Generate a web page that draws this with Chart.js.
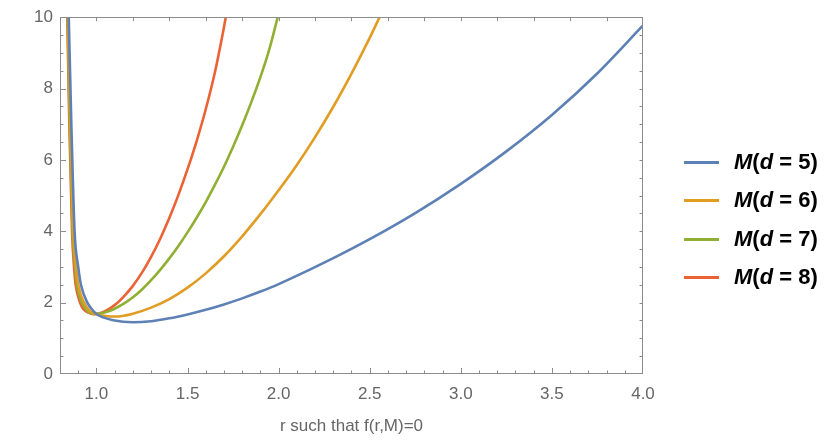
<!DOCTYPE html>
<html>
<head>
<meta charset="utf-8">
<script src="https://cdn.jsdelivr.net/npm/chart.js@4.4.1/dist/chart.umd.min.js"></script>
<style>
  html, body { margin: 0; padding: 0; background: #fff; }
  #wrap { position: relative; width: 830px; height: 443px; }
  #legend { position: absolute; left: 684px; top: 0; font: bold 22px "Liberation Sans", Arial, sans-serif; color: #000; }
  .row { position: absolute; left: 0; height: 30px; display: flex; align-items: center; white-space: nowrap; }
  .swatch { width: 35px; height: 3px; margin-right: 15px; }
</style>
</head>
<body>
<div id="wrap">
  <canvas id="c" width="830" height="443"></canvas>
  <div id="legend"></div>
</div>
<script>
// values
const dims = [5, 6, 7, 8];
const colors = ['#5e81b5', '#e19c24', '#8fb032', '#eb6235'];

const r5 = [0.848, 0.862, 0.880, 0.900, 0.915, 0.950, 0.974, 1.00, 1.10, 1.20, 1.30, 1.40, 1.50, 1.60, 1.70, 1.80, 1.90, 2.00, 2.25, 2.50, 2.75, 3.00, 3.25, 3.50, 3.75, 4.00];
const m5 = [10, 7.05, 4.0, 3.0, 2.5, 2.0, 1.82, 1.68, 1.50, 1.45, 1.48, 1.56, 1.67, 1.80, 1.95, 2.12, 2.31, 2.52, 3.12, 3.78, 4.51, 5.33, 6.24, 7.26, 8.43, 9.77];

const r6 = [0.844, 0.856, 0.872, 0.888, 0.900, 0.932, 0.960, 0.990, 1.05, 1.10, 1.15, 1.20, 1.30, 1.40, 1.50, 1.60, 1.70, 1.80, 1.90, 2.00, 2.10, 2.20, 2.30, 2.40, 2.50, 2.554];
const m6 = [10, 7.05, 4.0, 3.0, 2.5, 2.0, 1.78, 1.69, 1.625, 1.61, 1.635, 1.69, 1.86, 2.10, 2.42, 2.82, 3.30, 3.86, 4.48, 5.15, 5.86, 6.64, 7.49, 8.42, 9.42, 10];

const r7 = [0.842, 0.853, 0.869, 0.883, 0.893, 0.920, 0.950, 0.985, 1.05, 1.10, 1.15, 1.20, 1.25, 1.30, 1.35, 1.40, 1.45, 1.50, 1.55, 1.60, 1.65, 1.70, 1.75, 1.80, 1.85, 1.90, 1.95, 1.995];
const m7 = [10, 7.05, 4.0, 3.0, 2.5, 2.0, 1.76, 1.68, 1.73, 1.83, 1.97, 2.15, 2.37, 2.63, 2.92, 3.24, 3.59, 3.97, 4.38, 4.82, 5.30, 5.81, 6.37, 6.97, 7.62, 8.32, 9.12, 10];

const r8 = [0.840, 0.851, 0.866, 0.877, 0.886, 0.910, 0.928, 0.956, 0.985, 1.05, 1.10, 1.15, 1.20, 1.25, 1.30, 1.35, 1.40, 1.45, 1.50, 1.55, 1.60, 1.65, 1.70, 1.71];
const m8 = [10, 7.05, 4.0, 3.0, 2.5, 2.0, 1.82, 1.72, 1.675, 1.77, 1.93, 2.17, 2.47, 2.84, 3.28, 3.79, 4.37, 5.02, 5.74, 6.53, 7.42, 8.45, 9.72, 10];

const rs = [r5, r6, r7, r8];
const ms = [m5, m6, m7, m8];

const xTicks = [1.0, 1.5, 2.0, 2.5, 3.0, 3.5, 4.0];
const yTicks = [0, 2, 4, 6, 8, 10];
const xTitle = 'r such that f(r,M)=0';

const family = "'Liberation Sans', Arial, sans-serif";
const frameColor = '#8c8c8c';
const labelColor = '#666';

// Mathematica-style frame with ticks pointing inwards
const frameTicks = {
  id: 'frameTicks',
  afterDatasetsDraw(chart) {
    const { ctx, chartArea: a, scales: { x, y } } = chart;
    const px = v => Math.round(x.getPixelForValue(v)) + 0.5;
    const py = v => Math.round(y.getPixelForValue(v)) + 0.5;
    ctx.save();
    ctx.strokeStyle = frameColor;
    ctx.lineWidth = 1;
    ctx.beginPath();
    for (let i = 9; i < 40; i++) {          // bottom, every 0.1
      const len = i % 5 === 0 ? 6 : 3.5;
      ctx.moveTo(px(i / 10), a.bottom); ctx.lineTo(px(i / 10), a.bottom - len);
    }
    for (let i = 5; i < 20; i++) {          // top, every 0.2
      ctx.moveTo(px(i / 5), a.top); ctx.lineTo(px(i / 5), a.top + 4);
    }
    for (let i = 1; i < 20; i++) {          // left + right, every 0.5
      const len = i % 4 === 0 ? 6 : 3.5;
      ctx.moveTo(a.left, py(i / 2)); ctx.lineTo(a.left + len, py(i / 2));
      ctx.moveTo(a.right, py(i / 2)); ctx.lineTo(a.right - 3.5, py(i / 2));
    }
    ctx.stroke();
    ctx.strokeRect(Math.round(a.left) + 0.5, Math.round(a.top) + 0.5,
                   Math.round(a.right - a.left) - 1, Math.round(a.bottom - a.top) - 1);
    ctx.restore();
  }
};

new Chart(document.getElementById('c'), {
  type: 'line',
  data: {
    datasets: dims.map((d, i) => ({
      label: `M(d = ${d})`,
      data: rs[i].map((r, j) => ({ x: r, y: ms[i][j] })),
      borderColor: colors[i],
      borderWidth: 2.6,
      pointRadius: 0,
      fill: false,
      cubicInterpolationMode: 'monotone',
      clip: 0
    }))
  },
  options: {
    responsive: false,
    animation: false,
    layout: { padding: { top: 13, right: 187, left: 0, bottom: 0 } },
    plugins: { legend: { display: false }, tooltip: { enabled: false } },
    scales: {
      x: {
        type: 'linear', min: 0.8, max: 4.0,
        grid: { display: false, drawTicks: false },
        border: { display: false },
        afterBuildTicks: s => { s.ticks = xTicks.map(v => ({ value: v })); },
        afterFit: s => { s.height = 69; },
        ticks: { color: labelColor, font: { size: 17, family }, padding: 10, maxRotation: 0, autoSkip: false, callback: v => v.toFixed(1) },
        title: { display: true, text: xTitle, color: labelColor, font: { size: 17, family }, padding: { top: 0, bottom: 6 } }
      },
      y: {
        type: 'linear', min: 0, max: 10,
        grid: { display: false, drawTicks: false },
        border: { display: false },
        afterBuildTicks: s => { s.ticks = yTicks.map(v => ({ value: v })); },
        afterFit: s => { s.width = 60; },
        ticks: { color: labelColor, font: { size: 17, family }, padding: 7, callback: v => String(v) }
      }
    }
  },
  plugins: [frameTicks]
});

// legend with italic M and d, like the original
const legendRows = [162, 200, 239, 277];
const legend = document.getElementById('legend');
dims.forEach((d, i) => {
  const row = document.createElement('div');
  row.className = 'row';
  row.style.top = (legendRows[i] - 15) + 'px';
  row.innerHTML = `<span class="swatch" style="background:${colors[i]}"></span><span><i>M</i>(<i>d</i> = ${d})</span>`;
  legend.appendChild(row);
});
</script>
</body>
</html>
